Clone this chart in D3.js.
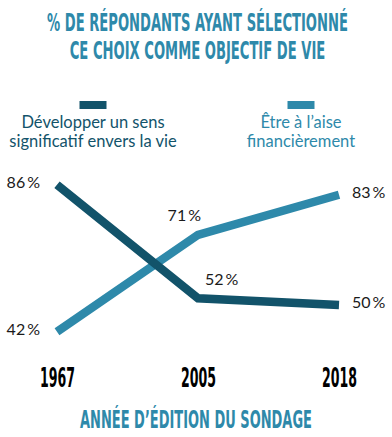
<!DOCTYPE html>
<html><head><meta charset="utf-8">
<script src="https://cdn.jsdelivr.net/npm/d3@7"></script>
<style>
html,body{margin:0;padding:0;background:#fff;}
svg{display:block;}
.cond{font-family:"Liberation Sans Narrow","DejaVu Sans Condensed",sans-serif;font-weight:bold;}
</style></head>
<body>
<svg id="chart" width="392" height="437"></svg>
<script>
const years = ["1967", "2005", "2018"];
const seriesNames = ["Développer un sens significatif envers la vie", "Être à l’aise financièrement"];
const meaningValues = [86, 52, 50];
const financeValues = [42, 71, 83];
const titleLines = ["% DE RÉPONDANTS AYANT SÉLECTIONNÉ", "CE CHOIX COMME OBJECTIF DE VIE"];
const xTitle = "ANNÉE D’ÉDITION DU SONDAGE";
const legendLines = [["Développer un sens", "significatif envers la vie"], ["Être à l’aise", "financièrement"]];

const dark = "#12536a", light = "#2e89aa";
const svg = d3.select("#chart");

// condensed text: draw at natural size, then squeeze horizontally with a transform
function condText(parent, str, cx, baseline, size, width, color){
  const g = parent.append("g");
  const t = g.append("text").attr("class","cond").attr("font-size",size)
    .attr("fill",color).attr("text-anchor","middle").attr("x",0).attr("y",0).text(str);
  const w = t.node().getComputedTextLength();
  const s = width / w;
  g.attr("transform",`translate(${cx},${baseline}) scale(${s},1)`);
  return g;
}

// Title: one text block with two lines, condensed
{
  const g = svg.append("g");
  const t = g.append("text").attr("class","cond").attr("font-size",25)
    .attr("fill",light).attr("text-anchor","middle");
  const spans = titleLines.map((l,i)=>t.append("tspan").attr("x",0).attr("y",i*28.5).text(l));
  const w1 = spans[0].node().getComputedTextLength();
  const w2 = spans[1].node().getComputedTextLength();
  const s = (304/w1 + 253/w2)/2;
  g.attr("transform",`translate(197.5,30.5) scale(${s},1)`);
}

// Legend
const legendCx = [93, 301];
const colors = [dark, light];
legendLines.forEach((lines,i)=>{
  svg.append("rect").attr("x", legendCx[i]-13.5).attr("y",101).attr("width",27).attr("height",8).attr("fill",colors[i]);
  const t = svg.append("text").attr("text-anchor","middle").attr("font-family","Lato, sans-serif")
      .attr("font-size",16.5).attr("fill",colors[i]);
  lines.forEach((l,j)=>{
    t.append("tspan").attr("x",legendCx[i]).attr("y",128+j*19).text(l);
  });
});

const x = d3.scalePoint().domain(years).range([57,339]).padding(0);
const y = d3.scaleLinear().domain([0,100]).range([472,138]);

const line = d3.line().x((d,i)=>x(years[i])).y(d=>y(d));

svg.append("path").attr("d", line(financeValues)).attr("fill","none").attr("stroke",light).attr("stroke-width",8.5).attr("stroke-linejoin","miter");
svg.append("path").attr("d", line(meaningValues)).attr("fill","none").attr("stroke",dark).attr("stroke-width",8.5).attr("stroke-linejoin","miter");

const fmt = v => v + "\u2009%";
function lab(v,i,isDark){
  const px = x(years[i]), py = y(v);
  let tx, ty, anchor;
  if(i===0){tx=px-17;ty=py+3;anchor="end";}
  else if(i===years.length-1){tx=px+13;ty=py+3;anchor="start";}
  else if(isDark){tx=px+7;ty=py-13;anchor="start";}
  else {tx=px+3;ty=py-14;anchor="end";}
  svg.append("text").attr("x",tx).attr("y",ty).attr("text-anchor",anchor)
    .attr("font-family","Lato, sans-serif").attr("font-size",16).attr("fill","#1a1a1a")
    .text(fmt(v));
}
meaningValues.forEach((v,i)=>lab(v,i,true));
financeValues.forEach((v,i)=>lab(v,i,false));

// X axis (ticks from the scale), then condense each label
const axis = svg.append("g").attr("transform","translate(0,367)")
  .call(d3.axisBottom(x).tickSize(0).tickPadding(0));
axis.select(".domain").remove();
axis.selectAll(".tick text").attr("class","cond").attr("font-size",26).attr("fill","#000")
  .attr("dy",null).attr("y",0)
  .each(function(){
    const w = this.getComputedTextLength();
    d3.select(this).attr("transform",`translate(0,20) scale(${35/w},1)`);
  });

condText(svg, xTitle, 196, 428, 25, 232, light);
</script>
</body></html>
